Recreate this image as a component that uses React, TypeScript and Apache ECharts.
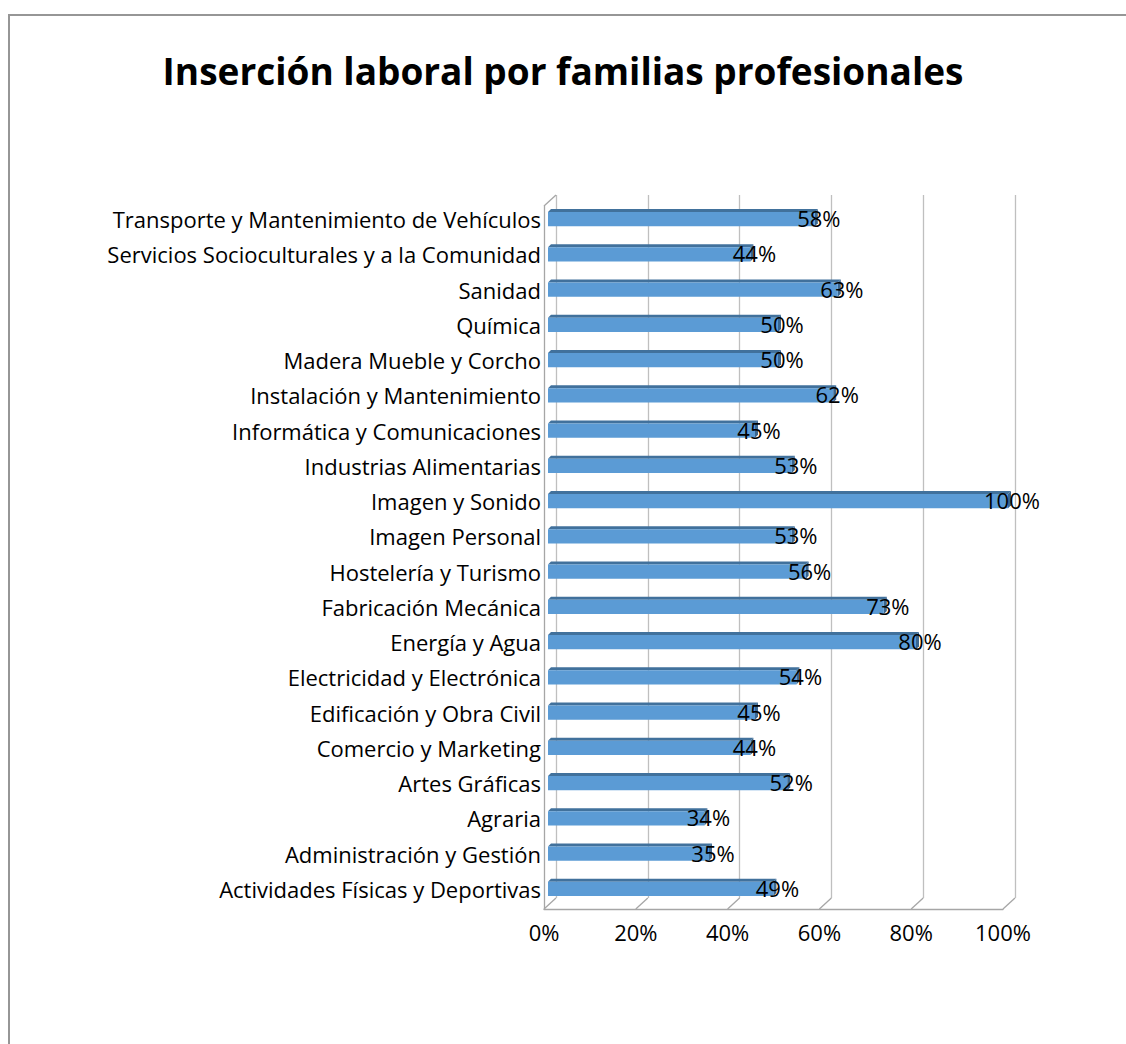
import React, { useEffect, useRef } from "react";
import * as echarts from "echarts";

const categories: string[] = [
  "Transporte y Mantenimiento de Vehículos",
  "Servicios Socioculturales y a la Comunidad",
  "Sanidad",
  "Química",
  "Madera Mueble y Corcho",
  "Instalación y Mantenimiento",
  "Informática y Comunicaciones",
  "Industrias Alimentarias",
  "Imagen y Sonido",
  "Imagen Personal",
  "Hostelería y Turismo",
  "Fabricación Mecánica",
  "Energía y Agua",
  "Electricidad y Electrónica",
  "Edificación y Obra Civil",
  "Comercio y Marketing",
  "Artes Gráficas",
  "Agraria",
  "Administración y Gestión",
  "Actividades Físicas y Deportivas",
];

const values: number[] = [58, 44, 63, 50, 50, 62, 45, 53, 100, 53, 56, 73, 80, 54, 45, 44, 52, 34, 35, 49];

const xTicks: number[] = [0, 20, 40, 60, 80, 100];

const TITLE = "Inserción laboral por familias profesionales";
const FONT = "'Open Sans', sans-serif";

export default function App() {
  const ref = useRef<HTMLDivElement>(null);

  useEffect(() => {
    if (!ref.current) return;
    const chart = echarts.init(ref.current, null, { renderer: "svg" });

    const depthX = 12;
    const depthY = -11;

    const floorData = xTicks.map((t) => [t, 0]).concat([[0, 1]]);

    chart.setOption({
      animation: false,
      backgroundColor: "#ffffff",
      title: {
        text: TITLE,
        left: "center",
        top: 47,
        textStyle: { fontFamily: FONT, fontWeight: "bold", fontSize: 37, color: "#000" },
      },
      graphic: [
        {
          type: "rect",
          shape: { x: 9, y: 15, width: 1300, height: 1200 },
          style: { fill: "none", stroke: "#969696", lineWidth: 2 },
          silent: true,
        },
      ],
      grid: [
        { left: 544, top: 206, width: 459, height: 703, containLabel: false },
        { left: 556, top: 195, width: 459, height: 703, containLabel: false },
        { left: 548, top: 201.5, width: 460, height: 705, containLabel: false },
      ],
      xAxis: [
        {
          gridIndex: 0,
          type: "value",
          min: 0,
          max: 100,
          interval: 20,
          axisLine: { show: true, lineStyle: { color: "#a6a6a6", width: 1.3 } },
          axisTick: { show: false },
          splitLine: { show: false },
          axisLabel: {
            show: true,
            formatter: "{value}%",
            margin: 12,
            fontFamily: FONT,
            fontSize: 22,
            color: "#000",
          },
        },
        {
          gridIndex: 1,
          type: "value",
          min: 0,
          max: 100,
          interval: 20,
          axisLine: { show: false },
          axisTick: { show: false },
          axisLabel: { show: false },
          splitLine: { show: true, lineStyle: { color: "#bfbfbf", width: 1.3 } },
        },
        {
          gridIndex: 2,
          type: "value",
          min: 0,
          max: 100,
          interval: 20,
          axisLine: { show: false },
          axisTick: { show: false },
          axisLabel: { show: false },
          splitLine: { show: false },
        },
      ],
      yAxis: [
        {
          gridIndex: 0,
          type: "value",
          min: 0,
          max: 1,
          axisLine: { show: true, lineStyle: { color: "#a6a6a6", width: 1.3 } },
          axisTick: { show: false },
          axisLabel: { show: false },
          splitLine: { show: false },
        },
        {
          gridIndex: 1,
          type: "value",
          min: 0,
          max: 1,
          axisLine: { show: false },
          axisTick: { show: false },
          axisLabel: { show: false },
          splitLine: { show: false },
        },
        {
          gridIndex: 2,
          type: "category",
          data: categories,
          inverse: true,
          axisLine: { show: false },
          axisTick: { show: false },
          splitLine: { show: false },
          axisLabel: {
            margin: 7,
            fontFamily: FONT,
            fontSize: 22,
            color: "#000",
          },
        },
      ],
      series: [
        {
          type: "custom",
          name: "floor",
          xAxisIndex: 0,
          yAxisIndex: 0,
          silent: true,
          data: floorData,
          renderItem: (params: any, api: any) => {
            const p = api.coord([api.value(0), api.value(1)]);
            return {
              type: "line",
              shape: { x1: p[0], y1: p[1], x2: p[0] + depthX, y2: p[1] + depthY },
              style: { stroke: "#a6a6a6", lineWidth: 1.3 },
            };
          },
        },
        {
          type: "custom",
          name: "Inserción laboral",
          xAxisIndex: 2,
          yAxisIndex: 2,
          data: values.map((v, i) => [v, i]),
          encode: { x: 0, y: 1 },
          renderItem: (params: any, api: any) => {
            const v = api.value(0);
            const c = api.value(1);
            const s = api.coord([0, c]);
            const e = api.coord([v, c]);
            const band = api.size([0, 1])[1];
            const h = band * 0.4;
            const d = 3;
            const x0 = s[0];
            const x1 = e[0];
            const yTop = s[1] - h / 2;
            const yBot = s[1] + h / 2;
            return {
              type: "group",
              children: [
                {
                  type: "polygon",
                  shape: { points: [[x0, yTop], [x0 + d, yTop - d], [x1 + d, yTop - d], [x1, yTop]] },
                  style: { fill: "#41719c" },
                },
                {
                  type: "polygon",
                  shape: { points: [[x1, yTop], [x1 + d, yTop - d], [x1 + d, yBot - d], [x1, yBot]] },
                  style: { fill: "#3a6690" },
                },
                {
                  type: "rect",
                  shape: { x: x0, y: yTop, width: x1 - x0, height: h },
                  style: { fill: "#5b9bd5" },
                },
                {
                  type: "text",
                  x: x1 + 4,
                  y: s[1] - 1,
                  style: {
                    text: v + "%",
                    textAlign: "center",
                    textVerticalAlign: "middle",
                    fontFamily: FONT,
                    fontSize: 22,
                    fill: "#000",
                  },
                },
              ],
            };
          },
        },
      ],
    });

    return () => chart.dispose();
  }, []);

  return (
    <div
      ref={ref}
      style={{ position: "fixed", left: 0, top: 0, width: 1126, height: 1044 }}
    />
  );
}
